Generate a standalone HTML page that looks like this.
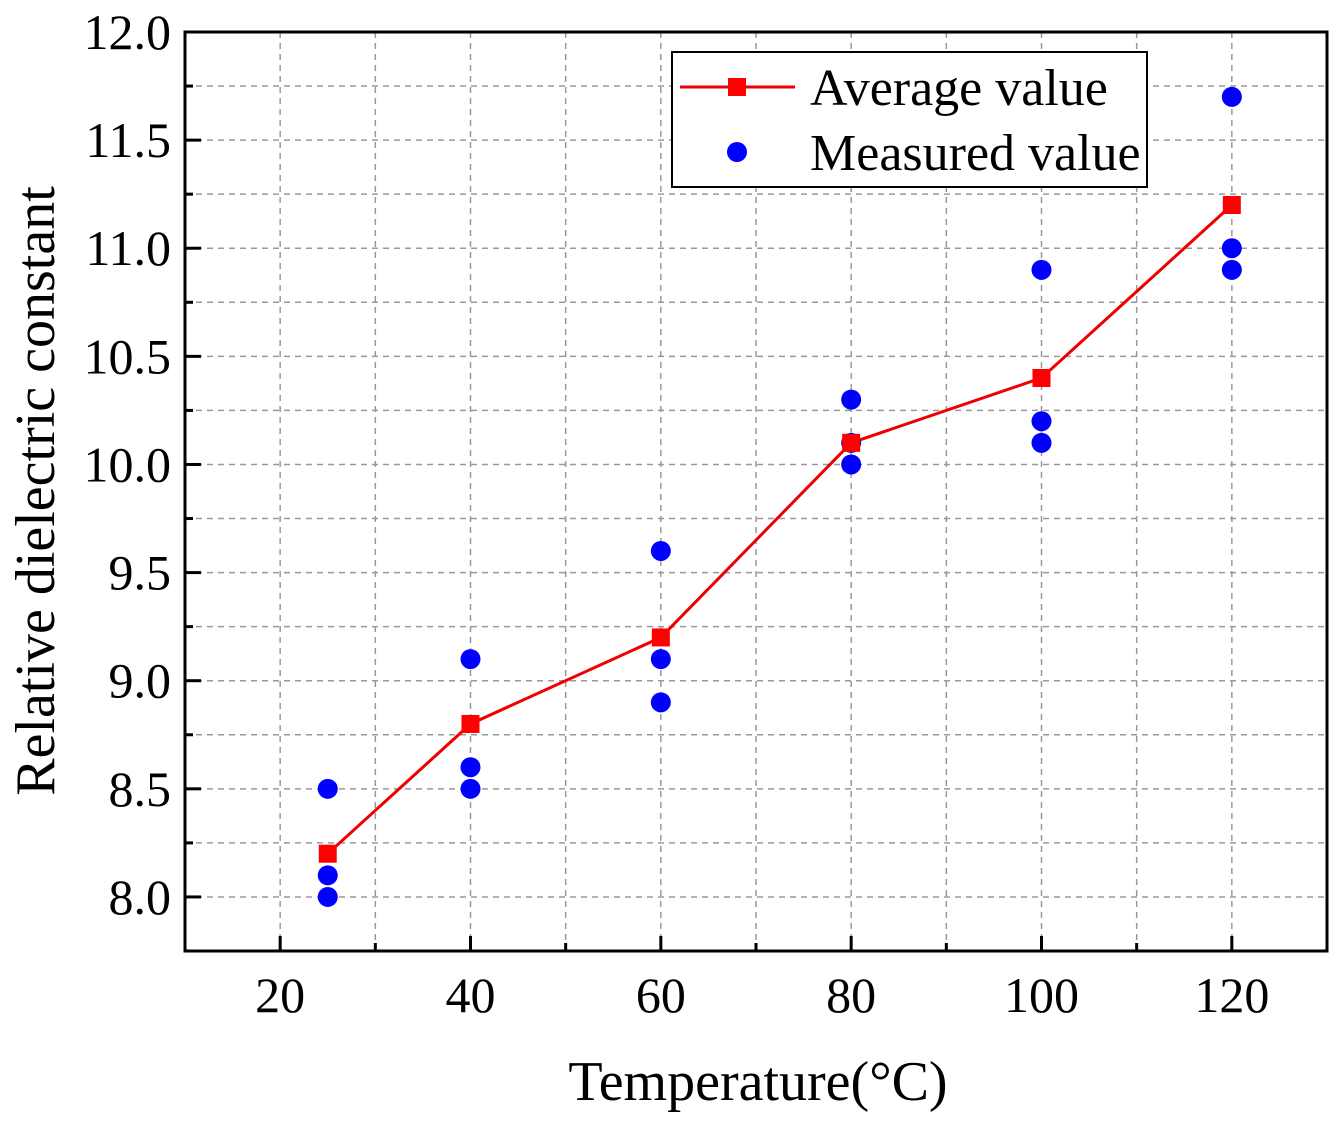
<!DOCTYPE html>
<html><head><meta charset="utf-8"><style>
html,body{margin:0;padding:0;background:#fff;}
svg text{font-family:"Liberation Serif",serif;fill:#000;}
</style></head><body>
<svg id="chart" width="1340" height="1121" xmlns="http://www.w3.org/2000/svg">
<g id="grid"></g>
<g id="axes"></g>
<g id="series"></g>
<text x="758" y="1100" font-size="56" text-anchor="middle">Temperature(°C)</text>
<text transform="translate(54,491) rotate(-90)" font-size="56" text-anchor="middle">Relative dielectric constant</text>
<g>
<rect x="672" y="52" width="475" height="135" fill="#fff" stroke="#000" stroke-width="2"/>
<line x1="680" y1="87" x2="795" y2="87" stroke="#e00" stroke-width="3"/>
<rect x="728" y="78" width="18" height="18" fill="#f00"/>
<text x="810" y="105" font-size="52">Average value</text>
<circle cx="737" cy="152" r="10" fill="#00f"/>
<text x="810" y="170" font-size="52">Measured value</text>
</g>
</svg>
<script>
const avgX=[25,40,60,80,100,120];
const avgY=[8.2,8.8,9.2,10.1,10.4,11.2];
const measX=[25,25,25,40,40,40,60,60,60,80,80,80,100,100,100,120,120,120];
const measY=[8.5,8.1,8.0,9.1,8.6,8.5,9.6,9.1,8.9,10.3,10.0,10.1,10.9,10.2,10.1,11.7,11.0,10.9];
const xTicks=[20,40,60,80,100,120];
const yTicks=[8.0,8.5,9.0,9.5,10.0,10.5,11.0,11.5,12.0];
const L=185,R=1327,T=32,B=951;
const xMin=10,xMax=130,yMin=7.75,yMax=12.0;
const sx=v=>L+(v-xMin)/(xMax-xMin)*(R-L);
const sy=v=>B-(v-yMin)/(yMax-yMin)*(B-T);
const NS="http://www.w3.org/2000/svg";
function mk(tag,attrs,parent){const e=document.createElementNS(NS,tag);for(const k in attrs)e.setAttribute(k,attrs[k]);parent.appendChild(e);return e;}
const grid=document.getElementById('grid'),axes=document.getElementById('axes'),series=document.getElementById('series');
for(let v=20;v<=120;v+=10){const g=mk('line',{x1:sx(v),x2:sx(v),y1:T,y2:B,stroke:'#999','stroke-width':1.5,'stroke-dasharray':'6,5'},grid);

}
for(let v=8.0;v<12;v+=0.25){const g=mk('line',{x1:L,x2:R,y1:sy(v),y2:sy(v),stroke:'#999','stroke-width':1.5,'stroke-dasharray':'6,5'},grid);

}
const fr=mk('rect',{x:L,y:T,width:R-L,height:B-T,fill:'none',stroke:'#000','stroke-width':3},axes);


for(let v=20;v<=120;v+=10){const maj=v%20===0;mk('line',{x1:sx(v),x2:sx(v),y1:B,y2:B-(maj?15:8),stroke:'#000','stroke-width':3},axes);}
for(let v=8.0;v<=12.0;v+=0.25){const maj=Math.abs(v*2-Math.round(v*2))<1e-6;mk('line',{x1:L,x2:L+(maj?16:8),y1:sy(v),y2:sy(v),stroke:'#000','stroke-width':3},axes);}
xTicks.forEach(v=>{const t=mk('text',{x:sx(v),y:1012,'font-size':50,'text-anchor':'middle'},axes);t.textContent=v;

});
yTicks.forEach(v=>{const t=mk('text',{x:171,y:sy(v)+17,'font-size':50,'text-anchor':'end'},axes);t.textContent=v.toFixed(1);

});
const pl=mk('polyline',{points:avgX.map((x,i)=>sx(x)+','+sy(avgY[i])).join(' '),fill:'none',stroke:'#e00','stroke-width':3},series);


measX.forEach((x,i)=>{const c=mk('circle',{cx:sx(x),cy:sy(measY[i]),r:10,fill:'#00f'},series);

});
avgX.forEach((x,i)=>{const r=mk('rect',{x:sx(x)-9,y:sy(avgY[i])-9,width:18,height:18,fill:'#f00'},series);

});
</script>
</body></html>
